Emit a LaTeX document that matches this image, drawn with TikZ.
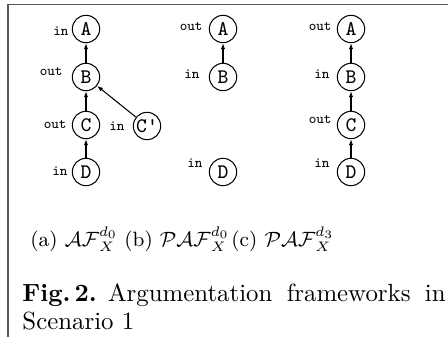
\documentclass[tikz,border=0pt]{standalone}
\usepackage{fontspec}
\usetikzlibrary{arrows.meta}
\definecolor{framecol}{gray}{0.35}
\begin{document}
\begin{tikzpicture}[x=0.4348pt,y=-0.4348pt,
  arg/.style={circle,draw,line width=0.45pt,minimum size=11.9pt,inner sep=0pt,
              font=\ttfamily\fontsize{9}{10}\selectfont},
  lab/.style={inner sep=0pt,anchor=east,font=\ttfamily\fontsize{6.2}{7}\selectfont},
  att/.style={-{Latex[length=2.6pt,width=1.9pt]},line width=0.45pt},
  subcap/.style={inner sep=0pt,anchor=base west,font=\fontsize{9}{11}\selectfont},
  captxt/.style={inner sep=0pt,anchor=base west,font=\fontsize{10.8}{13}\selectfont}]
\useasboundingbox (0,0) rectangle (448,337);
% frame
\coordinate (fbl) at (8,337);
\coordinate (ftl) at (8,4.5);
\coordinate (ftr) at (448,4.5);
\draw[framecol,line width=0.6pt] (fbl) -- (ftl) -- (ftr);
% panel (a)
\node[arg] (aA) at (86,29) {A};
\node[arg] (aB) at (86,77) {B};
\node[arg] (aC) at (86,125) {C};
\node[arg] (aD) at (86,172) {D};
\node[arg] (aCp) at (147,126) {C'};
\node[lab] (laA) at (69,31) {in};
\node[lab] (laB) at (63,72) {out};
\node[lab] (laC) at (67,125) {out};
\node[lab] (laCp) at (125,126) {in};
\node[lab] (laD) at (68,171) {in};
\draw[att] (aB) -- (aA);
\draw[att] (aC) -- (aB);
\draw[att] (aD) -- (aC);
\draw[att] (aCp) -- (aB);
% panel (b)
\node[arg] (bA) at (223,29) {A};
\node[arg] (bB) at (223,77) {B};
\node[arg] (bD) at (223,172) {D};
\node[lab] (lbA) at (203,27) {out};
\node[lab] (lbB) at (200,74) {in};
\node[lab] (lbD) at (203,163) {in};
\draw[att] (bB) -- (bA);
% panel (c)
\node[arg] (cA) at (351,29) {A};
\node[arg] (cB) at (351,77) {B};
\node[arg] (cC) at (351,125) {C};
\node[arg] (cD) at (351,172) {D};
\node[lab] (lcA) at (332,27) {out};
\node[lab] (lcB) at (330,74) {in};
\node[lab] (lcC) at (332,120) {out};
\node[lab] (lcD) at (330,163) {in};
\draw[att] (cB) -- (cA);
\draw[att] (cC) -- (cB);
\draw[att] (cD) -- (cC);
% captions
\node[subcap] (capa) at (30,246) {(a) $\mathcal{AF}_X^{d_0}$};
\node[subcap] (capb) at (124,246) {(b) $\mathcal{PAF}_X^{d_0}$};
\node[subcap] (capc) at (231,246) {(c) $\mathcal{PAF}_X^{d_3}$};
\node[captxt] (fig) at (22,301) {\makebox[184pt][s]{\textbf{Fig.\,2.}\hspace{0.45em}Argumentation frameworks in}};
\node[captxt] (scen) at (22,329) {Scenario 1};
\end{tikzpicture}
\end{document}
